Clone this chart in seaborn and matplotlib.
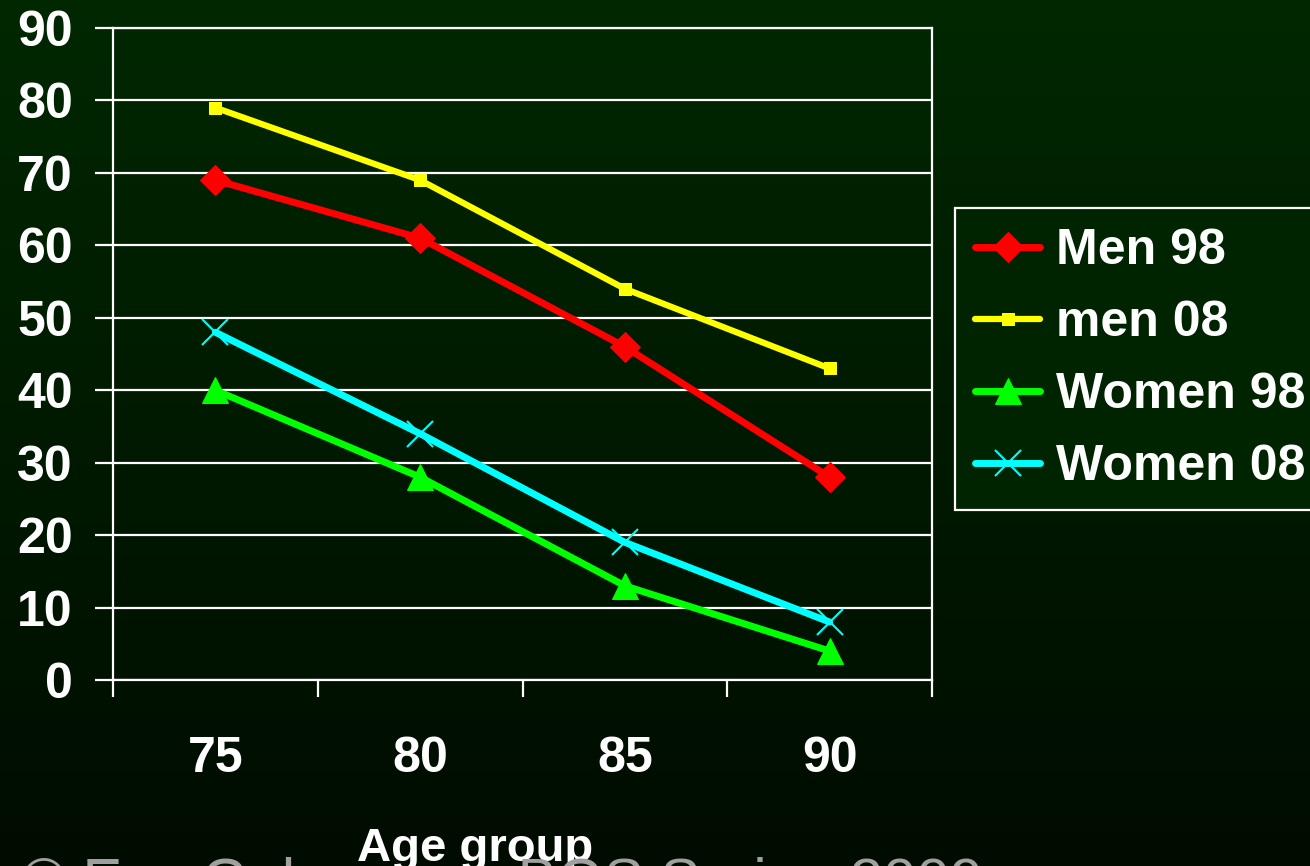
import numpy as np
import pandas as pd
import matplotlib
matplotlib.use("Agg")
import matplotlib.pyplot as plt
import seaborn as sns
from matplotlib.ticker import FixedLocator

# data
age_groups = ["75", "80", "85", "90"]
men_98 = [69, 61, 46, 28]
men_08 = [79, 69, 54, 43]
women_98 = [40, 28, 13, 4]
women_08 = [48, 34, 19, 8]
series_names = ["Men 98", "men 08", "Women 98", "Women 08"]
y_ticks = [0, 10, 20, 30, 40, 50, 60, 70, 80, 90]

sns.set_style("dark")
plt.rcParams["font.family"] = ["Liberation Sans", "DejaVu Sans"]

fig = plt.figure(figsize=(13.1, 8.66), dpi=100)

# dark green gradient background
bg = fig.add_axes([0, 0, 1, 1], zorder=-10)
grad = np.linspace(0, 1, 256).reshape(-1, 1)
top = np.array([0, 40, 0]) / 255
bottom = np.array([0, 12, 0]) / 255
img = top + (bottom - top) * grad[..., None]
bg.imshow(img, aspect="auto", extent=[0, 1, 0, 1])
bg.axis("off")

ax = fig.add_axes([113 / 1310, 1 - 680 / 866, 819 / 1310, 652 / 866])
ax.set_facecolor("none")

styles = [
    dict(color="#ff0000", marker="D", markersize=15, lw=5),
    dict(color="#ffff00", marker="s", markersize=9, lw=4.5),
    dict(color="#00ff00", marker="^", markersize=19, lw=5),
    dict(color="#00ffff", marker="x", markersize=19, lw=5, mew=1.5),
]
for name, vals, st in zip(series_names, [men_98, men_08, women_98, women_08], styles):
    df = pd.DataFrame({"age": age_groups, "value": vals})
    sns.lineplot(data=df, x="age", y="value", ax=ax, label=name,
                 markeredgecolor=st["color"], **st)

ax.set_xlim(-0.5, 3.5)
ax.set_ylim(0, 90)
ax.set_yticks(y_ticks)
ax.yaxis.grid(True, color="white", lw=1.6)
ax.xaxis.grid(False)
for s in ax.spines.values():
    s.set_visible(True)
    s.set_color("white")
    s.set_linewidth(1.6)

ax.tick_params(axis="y", which="major", length=13, width=1.6, color="white",
               direction="out", left=True, pad=16)
ax.tick_params(axis="x", which="major", length=0, pad=40)
ax.xaxis.set_minor_locator(FixedLocator([-0.5, 0.5, 1.5, 2.5, 3.5]))
ax.tick_params(axis="x", which="minor", length=12, width=1.6, color="white",
               direction="out", bottom=True)
for lab in ax.get_xticklabels() + ax.get_yticklabels():
    lab.set_fontsize(36)
    lab.set_fontweight("bold")
    lab.set_color("white")
ax.set_xlabel("")
ax.set_ylabel("")

fig.text(475 / 1310, 1 - 861 / 866, "Age group", color="white", fontsize=34,
         fontweight="bold", ha="center", va="baseline")
fig.text(22 / 1310, 1 - 900 / 866, "© Eva Gulowsen   BGS Spring 2009",
         color="#a0a0a0", fontsize=43, ha="left", va="baseline")

leg = ax.legend(loc="upper left", bbox_to_anchor=(955 / 1310, 1 - 208 / 866),
                bbox_transform=fig.transFigure, fontsize=36, frameon=True,
                fancybox=False, framealpha=1, borderpad=0.4, labelspacing=0.52,
                handlelength=1.3, handletextpad=0.33, borderaxespad=0)
frame = leg.get_frame()
frame.set_facecolor("#002400")
frame.set_edgecolor("white")
frame.set_linewidth(1.6)
for t in leg.get_texts():
    t.set_color("white")
    t.set_fontweight("bold")

fig.savefig("out.png", dpi=100)
